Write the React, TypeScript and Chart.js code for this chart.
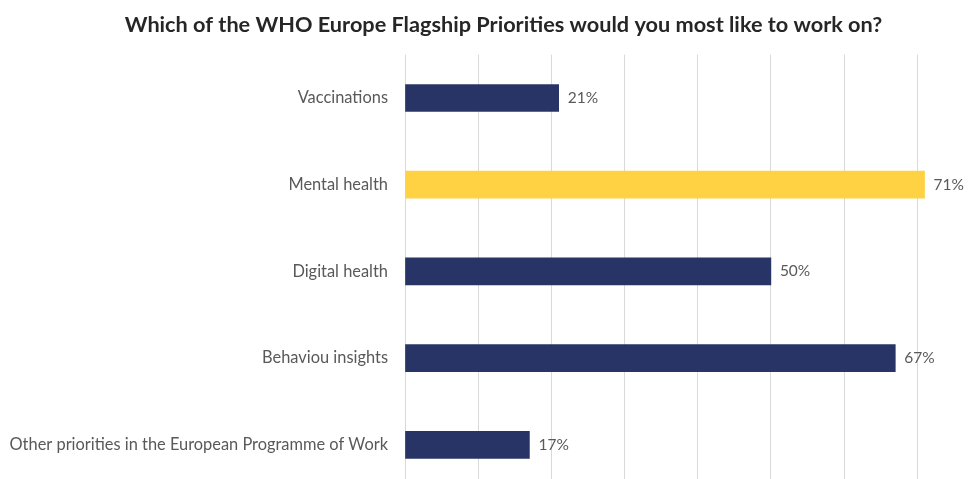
import React, { useEffect, useRef } from "react";
import { Chart, registerables } from "chart.js";

Chart.register(...registerables);

const categories = [
  "Vaccinations",
  "Mental health",
  "Digital health",
  "Behaviou insights",
  "Other priorities in the European Programme of Work",
];
const values = [21, 71, 50, 67, 17];
const barColors = ["#293466", "#FFD243", "#293466", "#293466", "#293466"];
const titleText = "Which of the WHO Europe Flagship Priorities would you most like to work on?";

const FONT = "Lato, 'Open Sans', sans-serif";

const valueLabels = {
  id: "valueLabels",
  afterDatasetsDraw(chart: any) {
    const { ctx } = chart;
    const meta = chart.getDatasetMeta(0);
    ctx.save();
    ctx.font = `15.5px ${FONT}`;
    ctx.fillStyle = "#595959";
    ctx.textAlign = "left";
    ctx.textBaseline = "middle";
    meta.data.forEach((bar: any, i: number) => {
      ctx.fillText(`${values[i]}%`, bar.x + 9, bar.y);
    });
    ctx.restore();
  },
};

export default function App() {
  const ref = useRef<HTMLCanvasElement | null>(null);
  useEffect(() => {
    if (!ref.current) return;
    const chart = new Chart(ref.current, {
      type: "bar",
      data: {
        labels: categories,
        datasets: [
          {
            data: values,
            backgroundColor: barColors,
            barThickness: 27,
          },
        ],
      },
      options: {
        indexAxis: "y",
        animation: false,
        responsive: false,
        layout: { padding: { top: 0, bottom: 0, left: 10, right: 13 } },
        plugins: {
          legend: { display: false },
          tooltip: { enabled: false },
          title: {
            display: true,
            text: titleText,
            color: "#262626",
            font: { family: FONT, size: 21.7, weight: "bold" },
            padding: { top: 12, bottom: 16.6 },
          },
        },
        scales: {
          x: {
            min: 0,
            max: 80.9,
            ticks: { display: false, stepSize: 10 },
            grid: { color: "#d9d9d9", lineWidth: 1, drawTicks: false },
            border: { display: false },
          },
          y: {
            ticks: {
              color: "#595959",
              font: { family: FONT, size: 16.4 },
              padding: 17,
            },
            grid: { display: false, drawTicks: false },
            border: { display: false },
            afterFit(scale: any) {
              scale.width = 395;
            },
          },
        },
      },
      plugins: [valueLabels],
    });
    return () => chart.destroy();
  }, []);
  return (
    <div style={{ position: "fixed", left: 0, top: 0, width: 978, height: 479, overflow: "hidden", background: "#fff" }}>
      <canvas ref={ref} width={1010} height={515} style={{ width: 1010, height: 515 }} />
    </div>
  );
}
